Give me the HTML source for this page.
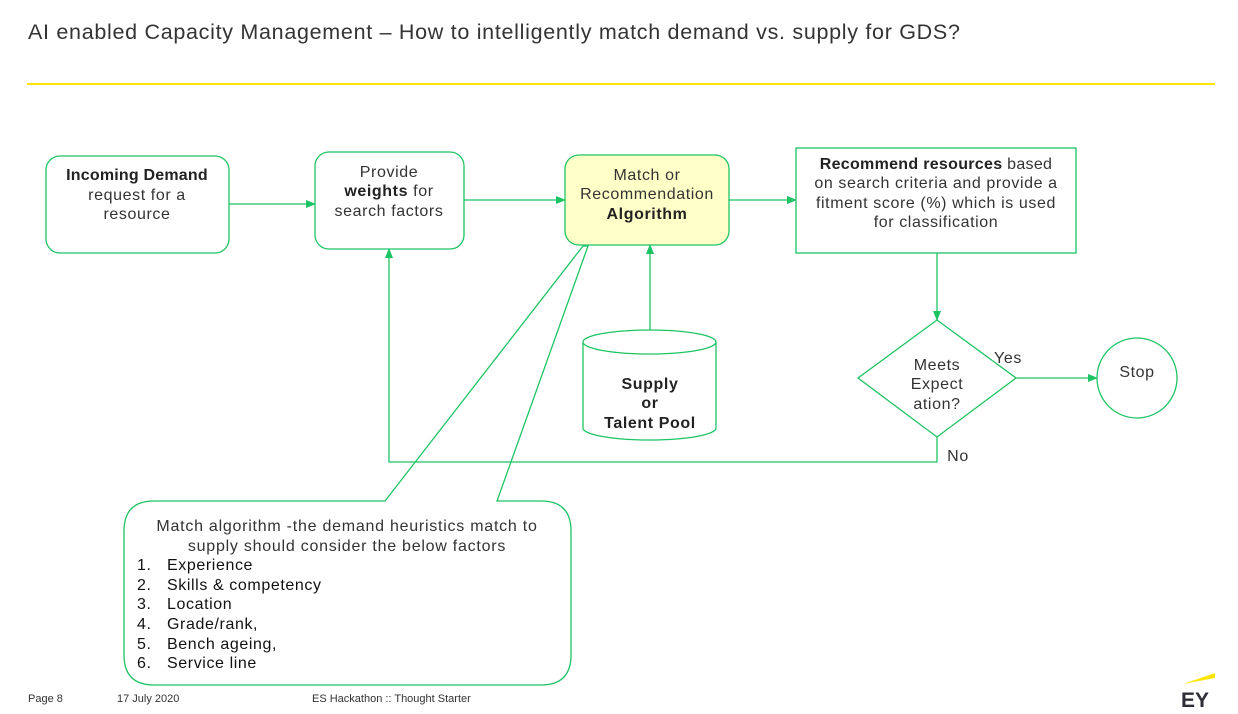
<!DOCTYPE html>
<html><head><meta charset="utf-8"><style>
html,body{margin:0;padding:0;background:#fff;}
body{width:1238px;height:714px;overflow:hidden;}
svg{display:block;font-family:"Liberation Sans",sans-serif;}
</style></head><body>
<svg width="1238" height="714" viewBox="0 0 1238 714" xmlns="http://www.w3.org/2000/svg">
<defs>
<marker id="a" markerWidth="10" markerHeight="10" refX="9" refY="5" orient="auto" markerUnits="userSpaceOnUse">
<path d="M0,1 L10,5 L0,9 Z" fill="#1dc463"/></marker>
</defs>
<text x="28" y="39" font-size="21.5" letter-spacing="0.7" fill="#333">AI enabled Capacity Management – How to intelligently match demand vs. supply for GDS?</text>
<line x1="27" y1="84" x2="1215" y2="84" stroke="#ffe600" stroke-width="2"/>
<g stroke="#1dc463" stroke-width="1.3" fill="none">
<rect x="46" y="156" width="183" height="97" rx="14" fill="#fff"/>
<rect x="315" y="152" width="149" height="97" rx="14" fill="#fff"/>
<rect x="565" y="155" width="164" height="90" rx="14" fill="#ffffc8"/>
<rect x="796" y="148" width="280" height="105" fill="#fff"/>
<line x1="229" y1="204" x2="315" y2="204" marker-end="url(#a)"/>
<line x1="464" y1="200" x2="565" y2="200" marker-end="url(#a)"/>
<line x1="729" y1="200" x2="796" y2="200" marker-end="url(#a)"/>
<line x1="650" y1="330" x2="650" y2="245" marker-end="url(#a)"/>
<line x1="937" y1="253" x2="937" y2="320" marker-end="url(#a)"/>
<line x1="1016" y1="378" x2="1097" y2="378" marker-end="url(#a)"/>
<polyline points="937,437 937,462 389,462 389,249" marker-end="url(#a)"/>
<path d="M583,342 L583,428 A66.5,12 0 0 0 716,428 L716,342" fill="#fff"/>
<ellipse cx="649.5" cy="342" rx="66.5" ry="12" fill="#fff"/>
<polygon points="937,320 1016,378 937,437 858,378" fill="#fff"/>
<circle cx="1137" cy="378" r="40" fill="#fff"/>
<path d="M497,501 L541,501 Q571,501 571,531 L571,655 Q571,685 541,685 L154,685 Q124,685 124,655 L124,531 Q124,501 154,501 L385,501 L583,246 L588,246 Z" fill="none"/>
</g>
<g font-size="16" letter-spacing="0.6" fill="#333" text-anchor="middle">
<text x="137" y="180" font-weight="bold" fill="#222" letter-spacing="0.2">Incoming Demand</text>
<text x="137" y="200">request for a</text>
<text x="137" y="219">resource</text>
<text x="389" y="177">Provide</text>
<text x="389" y="196"><tspan font-weight="bold" fill="#222">weights</tspan> for</text>
<text x="389" y="216">search factors</text>
<text x="647" y="180">Match or</text>
<text x="647" y="199">Recommendation</text>
<text x="647" y="219" font-weight="bold" fill="#222">Algorithm</text>
<text x="936" y="169" letter-spacing="0.3"><tspan font-weight="bold" fill="#222">Recommend resources</tspan> based</text>
<text x="936" y="188">on search criteria and provide a</text>
<text x="936" y="208">fitment score (%)  which is used</text>
<text x="936" y="227">for classification</text>
<text x="650" y="389" font-weight="bold" fill="#222">Supply</text>
<text x="650" y="408" font-weight="bold" fill="#222">or</text>
<text x="650" y="428" font-weight="bold" fill="#222">Talent Pool</text>
<text x="937" y="370">Meets</text>
<text x="937" y="389">Expect</text>
<text x="937" y="409">ation?</text>
<text x="1137" y="377">Stop</text>
<text x="1008" y="363">Yes</text>
<text x="958" y="461">No</text>
<text x="347" y="531" letter-spacing="0.75">Match algorithm -the demand heuristics match to</text>
<text x="347" y="551" letter-spacing="0.75">supply should consider the below factors</text>
</g>
<g font-size="16" letter-spacing="0.6" fill="#111">
<text x="137" y="570">1.</text><text x="167" y="570">Experience</text>
<text x="137" y="590">2.</text><text x="167" y="590">Skills &amp; competency</text>
<text x="137" y="609">3.</text><text x="167" y="609">Location</text>
<text x="137" y="629">4.</text><text x="167" y="629">Grade/rank,</text>
<text x="137" y="649">5.</text><text x="167" y="649">Bench ageing,</text>
<text x="137" y="668">6.</text><text x="167" y="668">Service line</text>
</g>
<g font-size="11" fill="#333">
<text x="28" y="702">Page 8</text>
<text x="117" y="702">17 July 2020</text>
<text x="312" y="702">ES Hackathon :: Thought Starter</text>
</g>
<polygon points="1183,684 1215,673 1215,678" fill="#ffe600"/>
<text x="1181" y="707" font-size="21" font-weight="bold" fill="#2e2e38">EY</text>
</svg>
</body></html>
